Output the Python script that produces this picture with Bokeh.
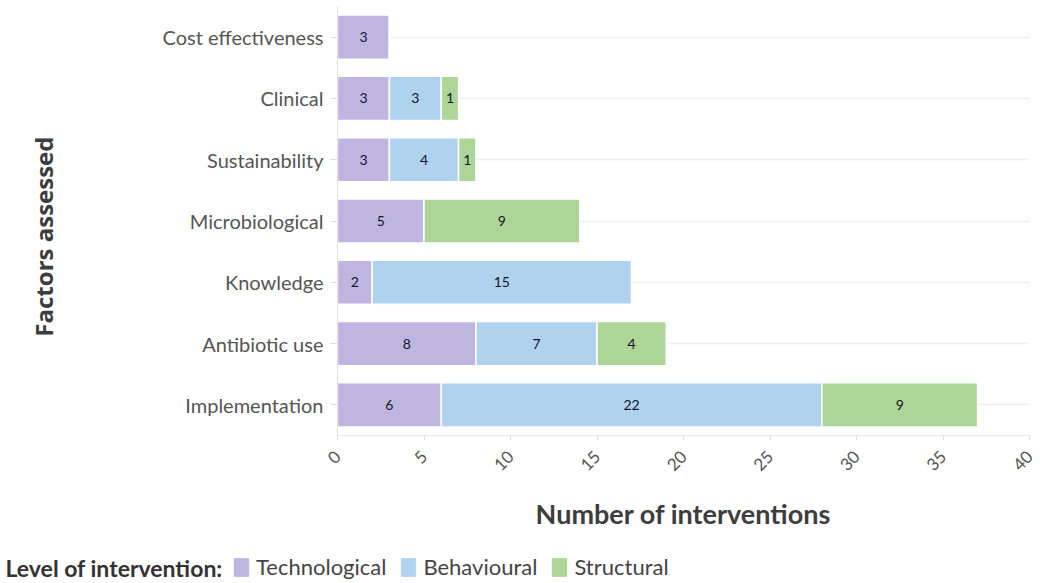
import math
from bokeh.plotting import figure
from bokeh.models import Legend, LegendItem, Label, ColumnDataSource, FixedTicker, Range1d
from bokeh.core.properties import value
from bokeh.embed import file_html
from bokeh.resources import INLINE

categories = ["Implementation", "Antibiotic use", "Knowledge", "Microbiological",
              "Sustainability", "Clinical", "Cost effectiveness"]
technological = [6, 8, 2, 5, 3, 3, 3]
behavioural = [22, 7, 15, 0, 4, 3, 0]
structural = [9, 4, 0, 9, 1, 1, 0]
levels = ["Technological", "Behavioural", "Structural"]
colors = ["#bfb5e1", "#afd3ef", "#add597"]
x_ticks = [0, 5, 10, 15, 20, 25, 30, 35, 40]

src = ColumnDataSource(dict(cat=categories, Technological=technological,
                            Behavioural=behavioural, Structural=structural))

p = figure(width=1040, height=543, y_range=categories, x_range=(0, 40),
           output_backend="svg", toolbar_location=None,
           min_border_left=337, min_border_right=11, min_border_top=6,
           min_border_bottom=108)
p.outline_line_color = None

rs = p.hbar_stack(levels, y="cat", height=0.72, color=colors, source=src,
                  line_color="white", line_width=1.5)

# segment labels
lx, ly, lt = [], [], []
for i, c in enumerate(categories):
    left = 0
    for vals in (technological, behavioural, structural):
        v = vals[i]
        if v > 0:
            lx.append(left + v / 2)
            ly.append(c)
            lt.append(str(v))
        left += v
p.text(x=lx, y=ly, text=lt, text_align="center", text_baseline="middle",
       text_font=value("Lato"), text_font_size="14px", text_font_style="normal",
       text_color="#15152a")

# axes
p.xaxis.ticker = FixedTicker(ticks=x_ticks)
p.xaxis.major_label_orientation = math.pi / 4
p.xaxis.major_label_text_font = "Lato"
p.xaxis.major_label_text_font_size = "17px"
p.xaxis.major_label_text_color = "#555555"
p.xaxis.major_label_standoff = 13
p.xaxis.axis_line_color = "#e8e8e8"
p.xaxis.major_tick_line_color = "#dddddd"
p.xaxis.major_tick_out = 5
p.xaxis.major_tick_in = 0
p.xaxis.minor_tick_line_color = None
p.xaxis.axis_label = "Number of interventions"
p.xaxis.axis_label_text_font = "Lato"
p.xaxis.axis_label_text_font_size = "27px"
p.xaxis.axis_label_text_font_style = "bold"
p.xaxis.axis_label_text_color = "#3d3d3d"
p.xaxis.axis_label_standoff = 17

p.yaxis.major_label_text_font = "Lato"
p.yaxis.major_label_text_font_size = "20px"
p.yaxis.major_label_text_color = "#555555"
p.yaxis.axis_line_color = "#e0e0e0"
p.yaxis.major_tick_line_color = "#e0e0e0"
p.yaxis.major_tick_out = 7
p.yaxis.major_tick_in = 0
p.yaxis.major_label_standoff = 7
p.yaxis.axis_label = "Factors assessed\u00a0\u00a0\u00a0\u00a0\u00a0"
p.yaxis.axis_label_text_font = "Open Sans"
p.yaxis.axis_label_text_font_size = "24px"
p.yaxis.axis_label_text_font_style = "bold"
p.yaxis.axis_label_text_color = "#3d3d3d"
p.yaxis.axis_label_standoff = 100

p.xgrid.grid_line_color = None
p.ygrid.grid_line_color = "#eeeeee"
p.ygrid.grid_line_width = 1.5

# legend strip (separate root so its frame is not aligned with the chart)
lg = figure(width=1040, height=40, x_range=Range1d(0, 1040), y_range=Range1d(0, 40),
            output_backend="svg", toolbar_location=None,
            min_border_left=0, min_border_right=0, min_border_top=0, min_border_bottom=0)
lg.outline_line_color = None
lg.axis.visible = False
lg.grid.visible = False

nan = float("nan")
dummies = [lg.quad(left=[nan], right=[nan], top=[nan], bottom=[nan],
                   fill_color=c, line_color=c)
           for c in colors]

title = Label(x=5, y=16, text="Level of intervention:", text_font="Lato",
              text_font_size="23px", text_font_style="bold",
              text_color="#333333", text_baseline="middle")
lg.add_layout(title)

items = [LegendItem(label=lv, renderers=[r]) for lv, r in zip(levels, dummies)]
legend = Legend(items=items, orientation="horizontal", location=(232, 3),
                padding=0, margin=0, spacing=13, label_standoff=6,
                glyph_width=18, glyph_height=22, label_height=22,
                label_text_font="Lato", label_text_font_size="22px",
                label_text_color="#444444", border_line_color=None,
                background_fill_alpha=0)
lg.add_layout(legend, "center")

open("out.html", "w").write(file_html([p, lg], INLINE))
